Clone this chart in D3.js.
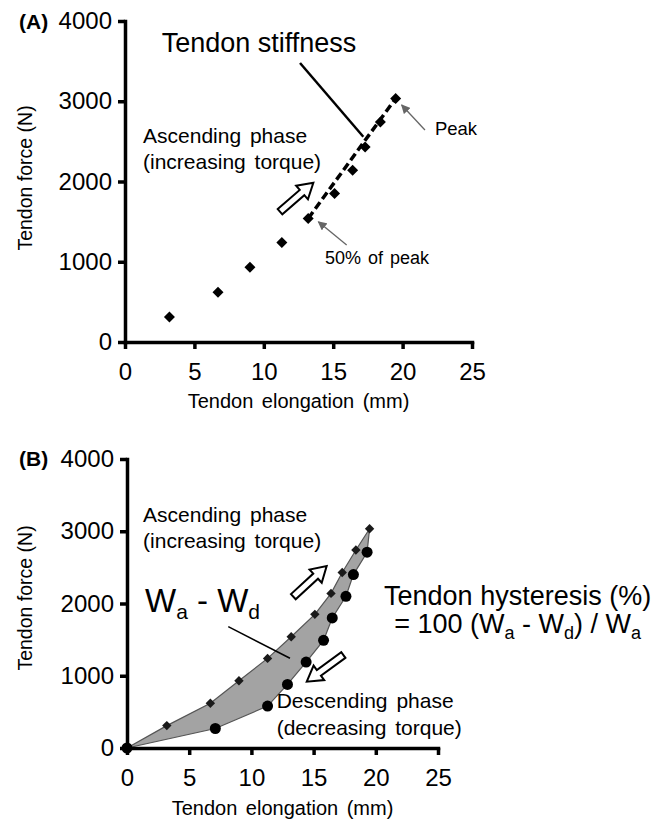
<!DOCTYPE html>
<html><head><meta charset="utf-8">
<script src="https://cdn.jsdelivr.net/npm/d3@7"></script>
<style>
body{margin:0;background:#fff}
svg{display:block}
text{font-family:"Liberation Sans",Arial,sans-serif;fill:#000}
</style>
</head><body>
<svg id="c" width="667" height="819"></svg>
<script>
// ---------- data ----------
const xTicks = [0, 5, 10, 15, 20, 25];
const yTicks = [0, 1000, 2000, 3000, 4000];
const ascElong = [3.2, 6.7, 9.0, 11.3, 13.2, 15.1, 16.4, 17.3, 18.4, 19.5];
const ascForce = [310, 620, 930, 1240, 1540, 1850, 2140, 2430, 2740, 3035];
const stiffFrom = 4; // index of the 50%-of-peak point
const descElong = [19.3, 18.2, 17.6, 16.5, 15.8, 14.4, 12.9, 11.3, 7.1, 0];
const descForce = [2710, 2400, 2100, 1800, 1490, 1190, 880, 580, 270, 0];
const origin = [0, 0];

const svg = d3.select("#c");
svg.append("rect").attr("width", 667).attr("height", 819).attr("fill", "#fff");

// ---------- scales ----------
const xA = d3.scaleLinear().domain([0, 25]).range([125, 472]);
const yA = d3.scaleLinear().domain([0, 4000]).range([342, 21]);
const xB = d3.scaleLinear().domain([0, 25]).range([127, 438]);
const yB = d3.scaleLinear().domain([0, 4000]).range([748, 459]);

function axes(x, y) {
  const g = svg.append("g");
  const gx = g.append("g").attr("transform", `translate(0,${y(0)})`)
    .call(d3.axisBottom(x).tickValues(xTicks).tickSize(7).tickSizeOuter(0).tickPadding(14).tickFormat(d3.format("d")));
  const gy = g.append("g").attr("transform", `translate(${x(0)},0)`)
    .call(d3.axisLeft(y).tickValues(yTicks).tickSize(7).tickSizeOuter(0).tickPadding(6).tickFormat(d3.format("d")));
  [gx, gy].forEach(a => {
    a.attr("font-family", null).attr("font-size", null);
    a.select(".domain").attr("stroke", "#000").attr("stroke-width", 3.5).attr("stroke-linecap", "square");
    a.selectAll(".tick line").attr("stroke", "#000").attr("stroke-width", 3.5);
    a.selectAll(".tick text").attr("font-size", 24).attr("fill", "#000");
  });
  return g;
}

function titles(x, y, xBase, yMid) {
  svg.append("text").attr("x", (x.range()[0] + x.range()[1]) / 2).attr("y", xBase)
    .attr("text-anchor", "middle").attr("font-size", 20).attr("word-spacing", 3)
    .text("Tendon elongation (mm)");
  svg.append("text").attr("transform", `translate(32,${yMid}) rotate(-90)`)
    .attr("text-anchor", "middle").attr("font-size", 19.5)
    .text("Tendon force (N)");
}

const diamond = r => `M0,${-r}L${r},0L0,${r}L${-r},0Z`;

function blockArrow(x1, y1, x2, y2) {
  const L = Math.hypot(x2 - x1, y2 - y1), a = Math.atan2(y2 - y1, x2 - x1) * 180 / Math.PI;
  const sw = 3.5, hw = 9, hl = 15;
  const pts = [[0, -sw], [L - hl, -sw], [L - hl, -hw], [L, 0], [L - hl, hw], [L - hl, sw], [0, sw]];
  svg.append("path").attr("d", d3.line()(pts) + "Z")
    .attr("transform", `translate(${x1},${y1}) rotate(${a})`)
    .attr("fill", "#fff").attr("stroke", "#000").attr("stroke-width", 2);
}

const defs = svg.append("defs");
defs.append("marker").attr("id", "ga").attr("viewBox", "0 0 10 10").attr("refX", 9).attr("refY", 5)
  .attr("markerWidth", 7).attr("markerHeight", 7).attr("orient", "auto")
  .append("path").attr("d", "M0,0L10,5L0,10Z").attr("fill", "#666");

// ================= Panel A =================
axes(xA, yA);
titles(xA, yA, 408, 178);
svg.append("text").attr("x", 19).attr("y", 29).attr("font-size", 21).attr("font-weight", "bold").text("(A)");

// stiffness regression line (dashed)
svg.append("line")
  .attr("x1", xA(ascElong[stiffFrom])).attr("y1", yA(ascForce[stiffFrom]))
  .attr("x2", xA(ascElong[ascElong.length - 1])).attr("y2", yA(ascForce[ascForce.length - 1]))
  .attr("stroke", "#000").attr("stroke-width", 3.5).attr("stroke-dasharray", "8,4");

svg.append("g").selectAll("path").data(ascElong).join("path")
  .attr("d", diamond(5.5))
  .attr("transform", (d, i) => `translate(${xA(d)},${yA(ascForce[i])})`)
  .attr("fill", "#000");

// annotations A
svg.append("text").attr("x", xA(2.64)).attr("y", yA(3614)).attr("font-size", 27).text("Tendon stiffness");
svg.append("line").attr("x1", xA(12.61)).attr("y1", yA(3477)).attr("x2", xA(17.17)).attr("y2", yA(2558))
  .attr("stroke", "#000").attr("stroke-width", 2.5);
svg.append("text").attr("x", xA(1.3)).attr("y", yA(2476)).attr("font-size", 21).attr("word-spacing", 3).text("Ascending phase");
svg.append("text").attr("x", xA(1.3)).attr("y", yA(2160)).attr("font-size", 21).attr("word-spacing", 3).text("(increasing torque)");
blockArrow(xA(11.17), yA(1624), xA(13.57), yA(1985));
svg.append("text").attr("x", xA(14.41)).attr("y", yA(972)).attr("font-size", 18).attr("word-spacing", 2).text("50% of peak");
svg.append("line").attr("x1", xA(15.97)).attr("y1", yA(1209)).attr("x2", xA(13.93)).attr("y2", yA(1499))
  .attr("stroke", "#666").attr("stroke-width", 1.3).attr("marker-end", "url(#ga)");
svg.append("text").attr("x", xA(22.33)).attr("y", yA(2579)).attr("font-size", 18.5).text("Peak");
svg.append("line").attr("x1", xA(21.61)).attr("y1", yA(2642)).attr("x2", xA(19.93)).attr("y2", yA(2953))
  .attr("stroke", "#666").attr("stroke-width", 1.3).attr("marker-end", "url(#ga)");

// ================= Panel B =================
const loop = [origin].concat(ascElong.map((d, i) => [d, ascForce[i]]), descElong.map((d, i) => [d, descForce[i]]));
svg.append("path")
  .attr("d", d3.line().x(d => xB(d[0])).y(d => yB(d[1]))(loop) + "Z")
  .attr("fill", "#a3a3a3").attr("stroke", "#555").attr("stroke-width", 1.2);

axes(xB, yB);
titles(xB, yB, 815, 598);
svg.append("text").attr("x", 19).attr("y", 466).attr("font-size", 21).attr("font-weight", "bold").text("(B)");

svg.append("g").selectAll("circle").data(descElong).join("circle")
  .attr("cx", d => xB(d)).attr("cy", (d, i) => yB(descForce[i])).attr("r", 5.5).attr("fill", "#000");
svg.append("g").selectAll("path").data(ascElong).join("path")
  .attr("d", diamond(4.7))
  .attr("transform", (d, i) => `translate(${xB(d)},${yB(ascForce[i])})`)
  .attr("fill", "#1a1a1a");

// annotations B
svg.append("text").attr("x", xB(1.29)).attr("y", yB(3132)).attr("font-size", 21).attr("word-spacing", 3).text("Ascending phase");
svg.append("text").attr("x", xB(1.29)).attr("y", yB(2772)).attr("font-size", 21).attr("word-spacing", 3).text("(increasing torque)");
const w = svg.append("text").attr("x", xB(1.45)).attr("y", yB(1882)).attr("font-size", 33);
w.append("tspan").text("W");
w.append("tspan").attr("font-size", 21).attr("dy", 7).text("a");
w.append("tspan").attr("dy", -7).text(" - W");
w.append("tspan").attr("font-size", 21).attr("dy", 7).text("d");
svg.append("line").attr("x1", xB(8.14)).attr("y1", yB(1679)).attr("x2", xB(13.1)).attr("y2", yB(1242))
  .attr("stroke", "#000").attr("stroke-width", 1.5);
blockArrow(xB(13.37), yB(2094), xB(16.05), yB(2519));
blockArrow(xB(17.39), yB(1287), xB(14.45), yB(918));
svg.append("text").attr("x", xB(12.03)).attr("y", yB(549)).attr("font-size", 21).attr("word-spacing", 3).text("Descending phase");
svg.append("text").attr("x", xB(12.03)).attr("y", yB(180)).attr("font-size", 21).attr("word-spacing", 3).text("(decreasing torque)");
svg.append("text").attr("x", xB(31.4)).attr("y", yB(1979)).attr("text-anchor", "middle").attr("font-size", 27).text("Tendon hysteresis (%)");
const h = svg.append("text").attr("x", xB(31.4)).attr("y", yB(1592)).attr("text-anchor", "middle").attr("font-size", 27);
h.append("tspan").text("= 100 (W");
h.append("tspan").attr("font-size", 18).attr("dy", 6).text("a");
h.append("tspan").attr("dy", -6).text(" - W");
h.append("tspan").attr("font-size", 18).attr("dy", 6).text("d");
h.append("tspan").attr("dy", -6).text(") / W");
h.append("tspan").attr("font-size", 18).attr("dy", 6).text("a");
</script>
</body></html>
